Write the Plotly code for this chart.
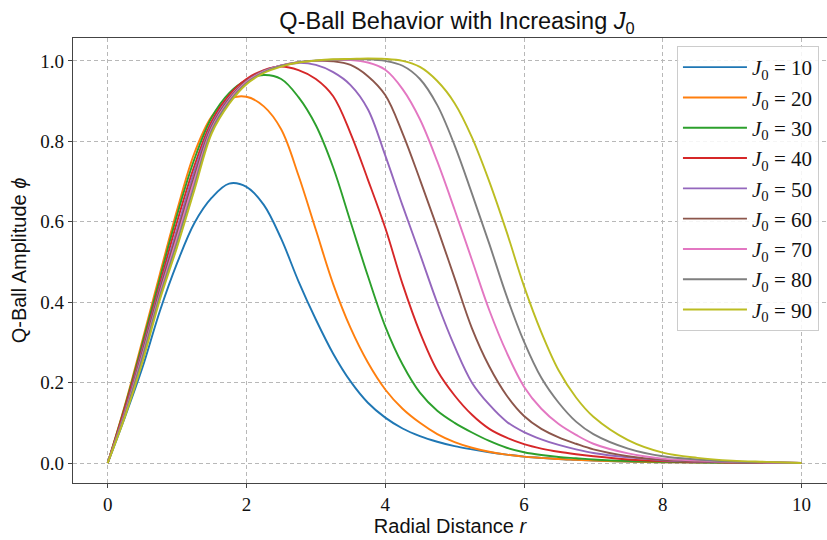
import plotly.graph_objects as go

r = [0, 0.25, 0.5, 0.75, 1.0, 1.25, 1.5, 1.75, 2.0, 2.25, 2.5, 2.75, 3.0, 3.25, 3.5,
     3.75, 4.0, 4.25, 4.5, 4.75, 5.0, 5.25, 5.5, 5.75, 6.0, 6.25, 6.5, 6.75, 7.0,
     7.5, 8.0, 8.5, 9.0, 9.5, 10.0]

phi_J10 = [0, 0.115, 0.237, 0.377, 0.497, 0.597, 0.66, 0.695, 0.687, 0.642, 0.558, 0.452,
           0.357, 0.272, 0.203, 0.15, 0.113, 0.086, 0.067, 0.053, 0.042, 0.034, 0.027,
           0.021, 0.016, 0.013, 0.010, 0.008, 0.006, 0.004, 0.002, 0.0013, 0.0008, 0.0004, 0]
phi_J20 = [0, 0.145, 0.305, 0.469, 0.629, 0.771, 0.862, 0.905, 0.911, 0.887, 0.83, 0.715,
           0.58, 0.445, 0.336, 0.25, 0.183, 0.135, 0.1, 0.072, 0.052, 0.038, 0.028,
           0.021, 0.016, 0.013, 0.010, 0.008, 0.006, 0.004, 0.002, 0.0013, 0.0008, 0.0004, 0]
phi_J30 = [0, 0.142, 0.297, 0.458, 0.617, 0.756, 0.86, 0.92, 0.952, 0.965, 0.955, 0.91,
           0.84, 0.735, 0.6, 0.465, 0.34, 0.245, 0.175, 0.13, 0.1, 0.076, 0.055, 0.038,
           0.027, 0.02, 0.015, 0.012, 0.009, 0.005, 0.003, 0.0018, 0.001, 0.0005, 0]
phi_J40 = [0, 0.138, 0.2875, 0.444, 0.6, 0.739, 0.85, 0.915, 0.955, 0.977, 0.986, 0.977,
           0.955, 0.912, 0.82, 0.705, 0.585, 0.445, 0.325, 0.23, 0.168, 0.12, 0.085,
           0.063, 0.047, 0.036, 0.028, 0.022, 0.017, 0.009, 0.005, 0.003, 0.0015, 0.0007, 0]
phi_J50 = [0, 0.13, 0.281, 0.435, 0.582, 0.726, 0.842, 0.908, 0.95, 0.975, 0.988, 0.995,
           0.99, 0.972, 0.94, 0.88, 0.765, 0.64, 0.52, 0.398, 0.29, 0.2, 0.145, 0.103,
           0.077, 0.059, 0.045, 0.034, 0.025, 0.014, 0.007, 0.004, 0.002, 0.001, 0]
phi_J60 = [0, 0.128, 0.275, 0.429, 0.571, 0.714, 0.837, 0.905, 0.95, 0.975, 0.989, 0.997,
           1.0, 0.999, 0.99, 0.962, 0.915, 0.82, 0.705, 0.585, 0.46, 0.335, 0.24, 0.168,
           0.117, 0.085, 0.064, 0.048, 0.034, 0.017, 0.008, 0.0045, 0.0025, 0.0012, 0]
phi_J70 = [0, 0.125, 0.268, 0.42, 0.56, 0.703, 0.832, 0.902, 0.948, 0.974, 0.989, 0.997,
           1.0, 1.002, 1.002, 0.996, 0.978, 0.93, 0.855, 0.75, 0.63, 0.505, 0.38, 0.275,
           0.19, 0.135, 0.097, 0.07, 0.048, 0.024, 0.011, 0.006, 0.003, 0.0015, 0]
phi_J80 = [0, 0.122, 0.262, 0.414, 0.549, 0.691, 0.827, 0.898, 0.945, 0.972, 0.988, 0.997,
           1.001, 1.003, 1.004, 1.004, 1.0, 0.988, 0.955, 0.89, 0.79, 0.67, 0.545, 0.415,
           0.302, 0.212, 0.15, 0.103, 0.072, 0.036, 0.017, 0.009, 0.004, 0.002, 0]
phi_J90 = [0, 0.116, 0.25, 0.405, 0.537, 0.679, 0.82, 0.893, 0.942, 0.97, 0.986, 0.996,
           1.001, 1.004, 1.005, 1.006, 1.005, 1.0, 0.985, 0.95, 0.895, 0.81, 0.7, 0.575,
           0.44, 0.325, 0.23, 0.163, 0.115, 0.057, 0.026, 0.013, 0.006, 0.003, 0]

J0_values = [10, 20, 30, 40, 50, 60, 70, 80, 90]
series = [phi_J10, phi_J20, phi_J30, phi_J40, phi_J50, phi_J60, phi_J70, phi_J80, phi_J90]
colors = ["#1f77b4", "#ff7f0e", "#2ca02c", "#d62728", "#9467bd",
          "#8c564b", "#e377c2", "#7f7f7f", "#bcbd22"]

x_ticks = [0, 2, 4, 6, 8, 10]
y_ticks = [0.0, 0.2, 0.4, 0.6, 0.8, 1.0]

SERIF = "Liberation Serif, DejaVu Serif, serif"
SANS = "Liberation Sans Narrow, Liberation Sans, Roboto, sans-serif"

W, H = 827, 540

fig = go.Figure()
for j, y, c in zip(J0_values, series, colors):
    fig.add_trace(go.Scatter(
        x=r, y=y, mode="lines",
        line=dict(color=c, width=1.9, shape="spline", smoothing=1.0),
        name=f"<i>J</i><sub>0</sub> = {j}",
    ))

axis_common = dict(
    showline=True, linecolor="#444", linewidth=1.2,
    ticks="outside", ticklen=4, tickcolor="#444", tickwidth=1,
    showgrid=True, gridcolor="#b8b8b8", gridwidth=0.8, griddash="4px,3px",
    zeroline=False, automargin=False,
    tickfont=dict(family=SERIF, size=19, color="#111"),
)

fig.update_layout(
    width=W, height=H,
    margin=dict(l=73, r=0, t=38, b=57, autoexpand=False),
    plot_bgcolor="white", paper_bgcolor="white",
    title=dict(text="Q-Ball Behavior with Increasing <i>J</i><sub>0</sub>",
               xref="container", x=457 / W, xanchor="center",
               y=1 - 21 / H, yanchor="middle", yref="container",
               font=dict(family=SANS, size=23.5, color="#111")),
    xaxis=dict(range=[-0.5, 10.367], tickvals=x_ticks, mirror=True,
               ticktext=[str(v) for v in x_ticks],
               title=dict(text="Radial Distance <i>r</i>", standoff=3,
                          font=dict(family=SANS, size=20, color="#111")),
               **axis_common),
    yaxis=dict(range=[-0.0496, 1.057], tickvals=y_ticks, mirror=False,
               ticktext=[f"{v:.1f}" for v in y_ticks],
               title=dict(text="Q-Ball Amplitude <i>ϕ</i>", standoff=8,
                          font=dict(family=SANS, size=20, color="#111")),
               **axis_common),
    legend=dict(x=0.801, y=0.982, xanchor="left", yanchor="top",
                bgcolor="rgba(255,255,255,0.85)", bordercolor="#cccccc",
                borderwidth=1, font=dict(family=SERIF, size=21, color="#111"),
                itemwidth=64, tracegroupgap=0),
    showlegend=True,
)

fig.write_html("out.html",
               config={"displayModeBar": False},
               post_script="document.body.style.margin='0';"
                           "document.body.style.overflow='hidden';")
